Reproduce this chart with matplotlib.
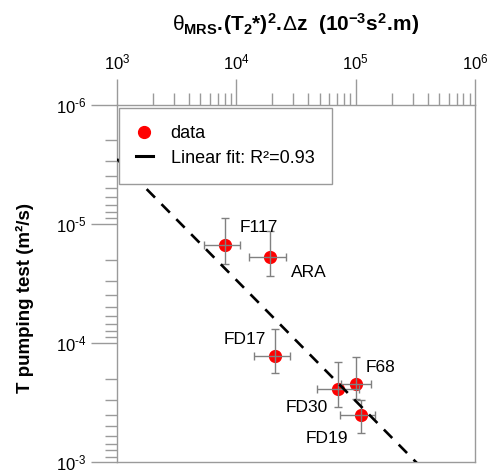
import numpy as np
import matplotlib
matplotlib.use('Agg')
import matplotlib.pyplot as plt
from matplotlib.lines import Line2D
from matplotlib.ticker import LogLocator, NullFormatter, FuncFormatter

# values
names = ['F117', 'ARA', 'FD17', 'FD30', 'F68', 'FD19']
x_val = [8000, 19300, 21000, 71000, 101000, 110000]
x_lo = [5400, 12800, 14100, 47500, 75000, 74500]
x_hi = [10800, 26100, 28000, 106600, 135000, 146000]
t_val = [1.52e-5, 1.92e-5, 1.29e-4, 2.46e-4, 2.23e-4, 4.07e-4]
t_lo = [8.9e-6, 1.15e-5, 7.6e-5, 1.45e-4, 1.32e-4, 3.04e-4]
t_hi = [2.16e-5, 2.74e-5, 1.79e-4, 3.46e-4, 2.98e-4, 5.73e-4]

# linear fit in log-log space: T at x=1e3 and slope
fit_t0 = 2.87e-6
fit_slope = 1.015
fit_r2 = 0.93

plt.rcParams['font.family'] = 'Liberation Sans'
plt.rcParams['mathtext.fontset'] = 'custom'
plt.rcParams['mathtext.rm'] = 'Liberation Sans'
plt.rcParams['mathtext.it'] = 'Liberation Sans:italic'
plt.rcParams['mathtext.bf'] = 'Liberation Sans:bold'
plt.rcParams['mathtext.sf'] = 'Liberation Sans'

grey = '#9a9a9a'

fig = plt.figure(figsize=(4.96, 4.71), dpi=100)
ax = fig.add_axes([117 / 496, 1 - 462 / 471, 358 / 496, 357.5 / 471])

x = np.array(x_val, dtype=float)
t = np.array(t_val, dtype=float)
xerr = [x - np.array(x_lo), np.array(x_hi) - x]
terr = [t - np.array(t_lo), np.array(t_hi) - t]

ax.plot(x, t, 'o', color='#ff0000', markersize=8.5, zorder=3)
ax.errorbar(x, t, xerr=xerr, yerr=terr, fmt='none', ecolor='#808080',
            elinewidth=1, capsize=2.8, capthick=1, zorder=4)

xf = np.logspace(3, 6, 50)
tf = fit_t0 * (xf / 1e3) ** fit_slope
ax.plot(xf, tf, color='black', lw=1.9, linestyle=(0, (4.5, 3.5)), zorder=5)

# point labels: offset in points, alignment
offsets = {
    'F117': (10.5, 9.5, 'left', 'baseline'),
    'ARA': (14.5, -14, 'left', 'baseline'),
    'FD17': (-6, 9, 'right', 'baseline'),
    'FD30': (-7, -16.3, 'right', 'baseline'),
    'F68': (6.5, 9, 'left', 'baseline'),
    'FD19': (-9, -20, 'right', 'baseline'),
}
for n, xv, tv in zip(names, x_val, t_val):
    dx, dy, ha, va = offsets[n]
    ax.annotate(n, (xv, tv), xytext=(dx, dy), textcoords='offset points',
                ha=ha, va=va, fontsize=12.5, zorder=6)

ax.set_xscale('log')
ax.set_yscale('log')
ax.set_xlim(1e3, 1e6)
ax.set_ylim(1e-3, 1e-6)


def pow_label(v, p):
    e = int(round(np.log10(v)))
    if e < 0:
        return r'$\mathrm{10^{\text{-}%d}}$' % (-e)
    return r'$\mathrm{10^{%d}}$' % e


for a in (ax.xaxis, ax.yaxis):
    a.set_major_locator(LogLocator(base=10, numticks=10))
    a.set_minor_locator(LogLocator(base=10, subs=np.arange(2, 10), numticks=10))
    a.set_minor_formatter(NullFormatter())
    a.set_major_formatter(FuncFormatter(pow_label))

ax.xaxis.tick_top()
ax.tick_params(axis='both', which='major', direction='out', length=19, width=1,
               color=grey, labelsize=12, pad=4)
ax.tick_params(axis='both', which='minor', direction='out', length=9, width=1,
               color=grey)
ax.tick_params(axis='x', which='both', top=True, bottom=False, labeltop=True, labelbottom=False)
ax.tick_params(axis='y', which='both', left=True, right=False, pad=3)

for s in ax.spines.values():
    s.set_color(grey)
    s.set_linewidth(1)

xlabel = (r'$\mathrm{\theta}_{\mathbf{MRS}}\mathbf{.}\!\mathbf{(T}_{\mathbf{2}}\mathbf{{*})}^{\mathbf{2}}'
          r'\mathbf{.}\!\mathrm{\Delta}\mathbf{z\ \ (10}^{\mathbf{-3}}\mathbf{s}^{\mathbf{2}}\mathbf{.\!m)}$')
ax.xaxis.set_label_position('top')
ax.set_xlabel(xlabel, fontsize=15)
ax.xaxis.label.set_va('center')
ax.xaxis.set_label_coords(0.5, 1 + (104.5 - 24) / 357.5)

ax.set_ylabel('T pumping test (m\u00b2/s)', fontsize=13.5, fontweight='bold')
ax.yaxis.label.set_va('center')
ax.yaxis.set_label_coords((25 - 117) / 358, 1 - (298 - 104.5) / 357.5)

handles = [
    Line2D([], [], ls='none', marker='o', color='#ff0000', markersize=8.5),
    Line2D([], [], ls='-', color='black', lw=2.2),
]
labels = ['data', 'Linear fit: R\u00b2=%.2f' % fit_r2]
leg = ax.legend(handles, labels, loc='upper left', bbox_to_anchor=(0.006, 0.99),
                borderaxespad=0, fontsize=13, frameon=True, fancybox=False,
                framealpha=1, edgecolor=grey, handlelength=0.9, handletextpad=1.0,
                labelspacing=0.42, borderpad=0.95)
leg.get_frame().set_linewidth(1)

fig.savefig('out.png', dpi=100)
